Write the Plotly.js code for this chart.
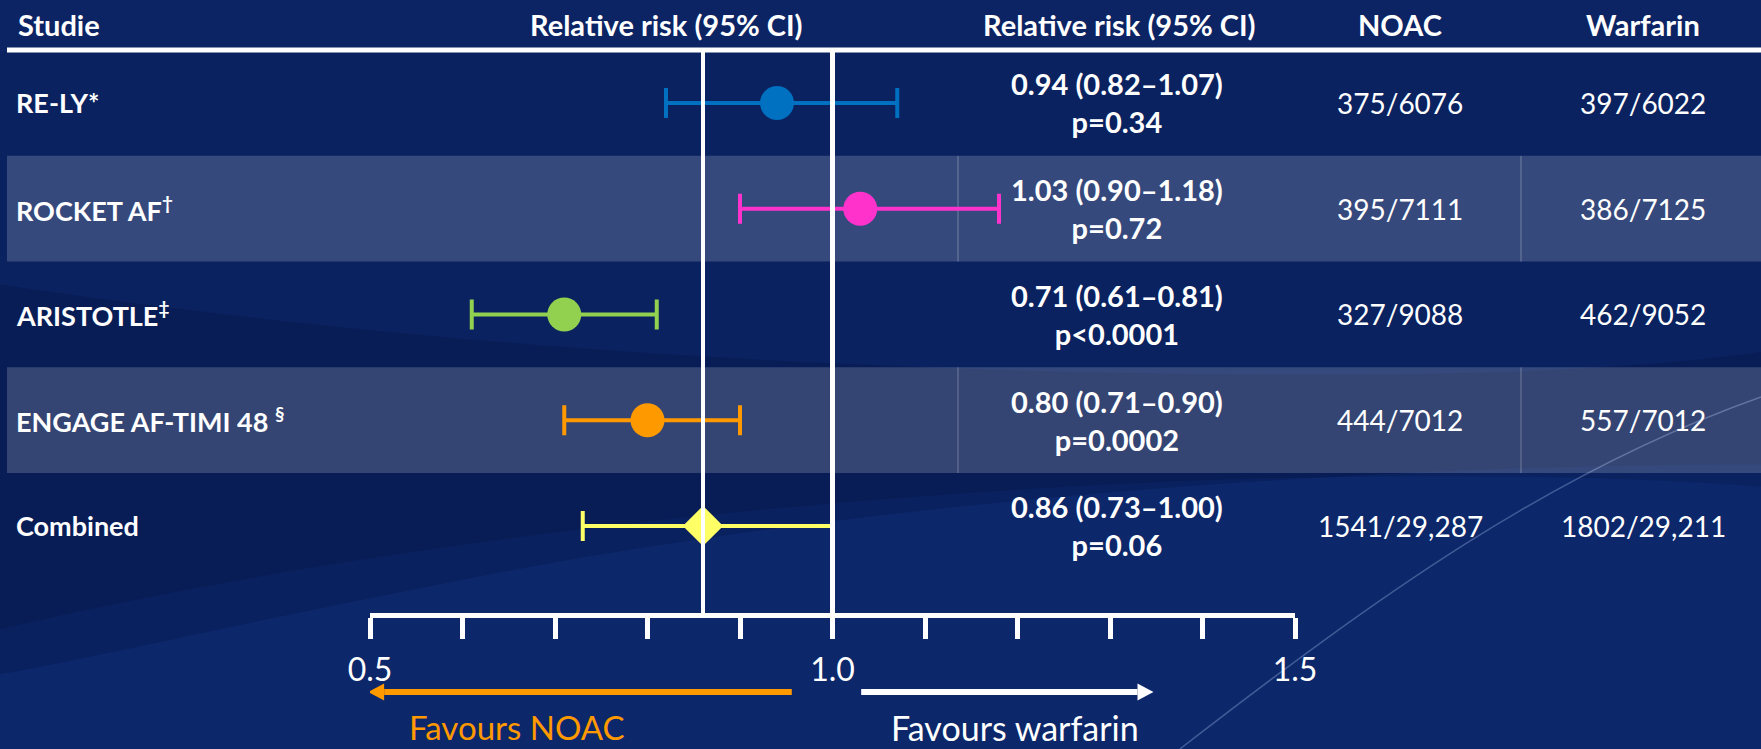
<!DOCTYPE html>
<html>
<head>
<meta charset="utf-8">
<script src="https://cdn.plot.ly/plotly-3.0.1.min.js"></script>
<style>
  html, body { margin: 0; padding: 0; background: #0a2260; overflow: hidden; }
  #chart { width: 1761px; height: 749px; }
</style>
</head>
<body>
<div id="chart"></div>
<script>
// ---------- data ----------
const studies = ['RE-LY*', 'ROCKET AF', 'ARISTOTLE', 'ENGAGE AF-TIMI 48', 'Combined'];
const studyLabels = ['RE-LY*', 'ROCKET AF<sup>†</sup>', 'ARISTOTLE<sup>‡</sup>', 'ENGAGE AF-TIMI 48 <sup>§</sup>', 'Combined'];
const relRisk = [0.94, 1.03, 0.71, 0.80, 0.86];
const ciLow = [0.82, 0.90, 0.61, 0.71, 0.73];
const ciHigh = [1.07, 1.18, 0.81, 0.90, 1.00];
const pValues = ['p=0.34', 'p=0.72', 'p<0.0001', 'p=0.0002', 'p=0.06'];
const noacEvents = ['375/6076', '395/7111', '327/9088', '444/7012', '1541/29,287'];
const warfarinEvents = ['397/6022', '386/7125', '462/9052', '557/7012', '1802/29,211'];
const studyColors = ['#0070c0', '#ff33cc', '#92d050', '#ff9900', '#ffff66'];
const majorTickVals = [0.5, 1.0, 1.5];
const majorTickText = ['0.5', '1.0', '1.5'];
const minorTickStep = 0.1;
const headers = ['Studie', 'Relative risk (95% CI)', 'Relative risk (95% CI)', 'NOAC', 'Warfarin'];
const favourLabels = ['Favours NOAC', 'Favours warfarin'];
const noEffect = 1.0;

// ---------- layout helpers ----------
const W = 1761, H = 749;
const px = v => v / W;
const py = v => 1 - v / H;
const FONT = 'Lato, "Liberation Sans", Arial, sans-serif';
const esc = s => s.replace(/</g, '&lt;');
const last = studies.length - 1;

const traces = studies.map((s, i) => ({
  type: 'scatter',
  mode: 'markers',
  x: [relRisk[i]],
  y: [s],
  marker: {
    color: studyColors[i],
    size: i === last ? 31 : 34,
    symbol: i === last ? 'diamond' : 'circle',
    line: { width: 0 }
  },
  error_x: {
    type: 'data',
    symmetric: false,
    array: [ciHigh[i] - relRisk[i]],
    arrayminus: [relRisk[i] - ciLow[i]],
    color: studyColors[i],
    thickness: 4,
    width: 15
  },
  hoverinfo: 'skip',
  showlegend: false,
  cliponaxis: false
}));

const shapes = [];
// background swooshes
shapes.push({ type: 'path', xref: 'paper', yref: 'paper', layer: 'below',
  path: 'M0,0.93 L1,0.93 L1,1 L0,1 Z',
  fillcolor: 'rgba(20,50,120,0.18)', line: { width: 0 } });
shapes.push({ type: 'path', xref: 'paper', yref: 'paper', layer: 'below',
  path: 'M0,0 L0,0.16 C0.2,0.27 0.45,0.34 0.7,0.36 C0.85,0.37 0.95,0.36 1,0.35 L1,0 Z',
  fillcolor: 'rgba(30,70,170,0.14)', line: { width: 0 } });
shapes.push({ type: 'path', xref: 'paper', yref: 'paper', layer: 'below',
  path: 'M0,0.62 C0.2,0.55 0.45,0.5 0.75,0.5 C0.9,0.5 0.97,0.52 1,0.53 L1,0.38 C0.8,0.38 0.5,0.34 0.25,0.22 C0.12,0.16 0.05,0.12 0,0.1 Z',
  fillcolor: 'rgba(0,8,40,0.16)', line: { width: 0 } });
shapes.push({ type: 'path', xref: 'paper', yref: 'paper', layer: 'below',
  path: 'M1,0.47 C0.88,0.37 0.78,0.2 0.67,0',
  line: { color: 'rgba(170,190,235,0.35)', width: 1.5 } });
// alternating row bands
[1, 3].forEach(k => {
  shapes.push({ type: 'rect', xref: 'paper', yref: 'y', layer: 'below',
    x0: px(7), x1: 1, y0: k - 0.5, y1: k + 0.5,
    fillcolor: 'rgba(255,255,255,0.18)', line: { width: 0 } });
  [958, 1521].forEach(xx => {
    shapes.push({ type: 'line', xref: 'paper', yref: 'y', layer: 'below',
      x0: px(xx), x1: px(xx), y0: k - 0.5, y1: k + 0.5,
      line: { color: 'rgba(255,255,255,0.3)', width: 1 } });
  });
});
// header rule
shapes.push({ type: 'line', xref: 'paper', yref: 'paper',
  x0: px(7), x1: 1, y0: py(50), y1: py(50), line: { color: '#ffffff', width: 5 } });
// reference lines: combined estimate and no effect
shapes.push({ type: 'line', xref: 'x', yref: 'y domain',
  x0: relRisk[last], x1: relRisk[last], y0: 0, y1: 1,
  line: { color: '#ffffff', width: 4 } });
shapes.push({ type: 'line', xref: 'x', yref: 'y domain',
  x0: noEffect, x1: noEffect, y0: 0, y1: 1,
  line: { color: '#ffffff', width: 5 } });

// favours arrows (shaft + head), in axis units horizontally
const arrowY = py(692);
const headLen = 16 / 925;          // arrowhead length in x units (axis spans 1.0 over 925 px)
const headHalf = 8.5 / H;          // arrowhead half height in paper units
function arrow(tail, tip, color) {
  const dir = tip > tail ? 1 : -1;
  const base = tip - dir * headLen;
  shapes.push({ type: 'line', xref: 'x', yref: 'paper', layer: 'above',
    x0: tail, x1: base, y0: arrowY, y1: arrowY, line: { color: color, width: 6 } });
  shapes.push({ type: 'path', xref: 'x', yref: 'paper', layer: 'above',
    path: 'M' + tip + ',' + arrowY + ' L' + base + ',' + (arrowY + headHalf) +
          ' L' + base + ',' + (arrowY - headHalf) + ' Z',
    fillcolor: color, line: { width: 0 } });
}
arrow(0.956, 0.498, '#ff9900');
arrow(1.031, 1.347, '#ffffff');

const annotations = [];
const headerX = [16, 666, 1119, 1400, 1643];
headers.forEach((h, i) => {
  annotations.push({ xref: 'paper', yref: 'paper', x: px(headerX[i]), y: py(24),
    xanchor: i === 0 ? 'left' : 'center', yanchor: 'middle', showarrow: false,
    text: '<b>' + h + '</b>', font: { family: FONT, size: 29, color: '#ffffff' } });
});
studies.forEach((s, i) => {
  annotations.push({ xref: 'paper', yref: 'y', x: px(14), y: i,
    xanchor: 'left', yanchor: 'middle', showarrow: false,
    text: '<b>' + studyLabels[i] + '</b>', font: { family: FONT, size: 27, color: '#ffffff' } });
  const rrText = relRisk[i].toFixed(2) + ' (' + ciLow[i].toFixed(2) + '–' + ciHigh[i].toFixed(2) + ')';
  annotations.push({ xref: 'paper', yref: 'y', x: px(1117), y: i,
    xanchor: 'center', yanchor: 'middle', showarrow: false,
    text: '<b>' + rrText + '</b><br><b>' + esc(pValues[i]) + '</b>',
    font: { family: FONT, size: 29, color: '#ffffff' } });
  annotations.push({ xref: 'paper', yref: 'y', x: px(1400), y: i,
    xanchor: 'center', yanchor: 'middle', showarrow: false,
    text: noacEvents[i], font: { family: FONT, size: 28, color: '#ffffff' } });
  annotations.push({ xref: 'paper', yref: 'y', x: px(1643), y: i,
    xanchor: 'center', yanchor: 'middle', showarrow: false,
    text: warfarinEvents[i], font: { family: FONT, size: 28, color: '#ffffff' } });
});
annotations.push({ xref: 'paper', yref: 'paper', x: px(516), y: py(727),
  xanchor: 'center', yanchor: 'middle', showarrow: false,
  text: favourLabels[0], font: { family: FONT, size: 33, color: '#ff9900' } });
annotations.push({ xref: 'paper', yref: 'paper', x: px(1015), y: py(727),
  xanchor: 'center', yanchor: 'middle', showarrow: false,
  text: favourLabels[1], font: { family: FONT, size: 34, color: '#ffffff' } });

const layout = {
  width: W, height: H,
  margin: { l: 0, r: 0, t: 0, b: 0, pad: 0 },
  paper_bgcolor: '#0a2260',
  plot_bgcolor: 'rgba(0,0,0,0)',
  showlegend: false,
  xaxis: {
    domain: [px(370), px(1295)],
    range: [0.5, 1.5],
    tickmode: 'array', tickvals: majorTickVals, ticktext: majorTickText,
    ticks: 'outside', ticklen: 21, tickwidth: 5, tickcolor: '#ffffff',
    minor: { dtick: minorTickStep, tick0: 0.5, ticks: 'outside', ticklen: 21, tickwidth: 5,
      tickcolor: '#ffffff', showgrid: false },
    showline: true, linecolor: '#ffffff', linewidth: 5,
    showgrid: false, zeroline: false,
    tickfont: { family: FONT, size: 32, color: '#ffffff' },
    ticklabelstandoff: 4,
    fixedrange: true
  },
  yaxis: {
    visible: false,
    type: 'category',
    categoryorder: 'array', categoryarray: studies,
    domain: [py(613), py(50)],
    range: [4.823, -0.501],
    showticklabels: false, showgrid: false, zeroline: false, showline: false,
    ticks: '',
    fixedrange: true
  },
  shapes: shapes,
  annotations: annotations
};

Plotly.newPlot('chart', traces, layout, { displayModeBar: false, staticPlot: true });
</script>
</body>
</html>
